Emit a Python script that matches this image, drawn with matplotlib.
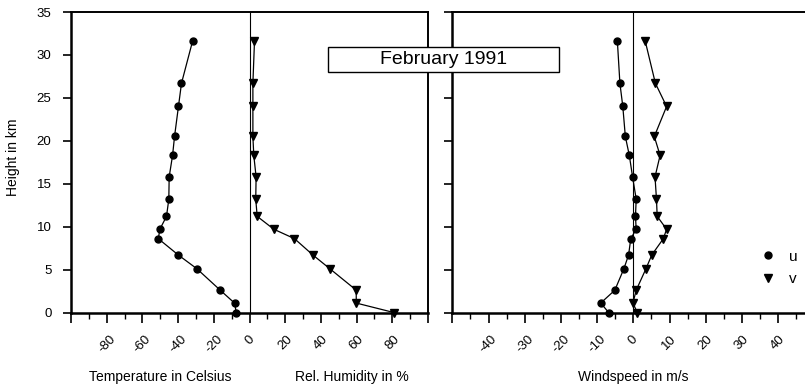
import numpy as np
import matplotlib
matplotlib.use('Agg')
import matplotlib.pyplot as plt
from matplotlib.patches import Rectangle
from matplotlib.ticker import MultipleLocator, FuncFormatter

plt.rcParams['font.family'] = ['Liberation Sans', 'DejaVu Sans']

# sounding levels (km) and profiles
height = [0, 1.1, 2.6, 5.1, 6.7, 8.6, 9.7, 11.2, 13.2, 15.8, 18.3, 20.5, 24.0, 26.7, 31.6]
temp = [-7.4, -8.4, -16.4, -29.5, -39.9, -51.1, -50.2, -46.5, -45.2, -45.0, -43.1, -42.0, -39.8, -38.1, -31.9]
humid = [80.8, 59.8, 59.8, 45.0, 35.5, 25.2, 13.6, 4.3, 3.5, 3.7, 2.4, 1.9, 1.9, 1.9, 2.8]
wind_u = [-6.8, -9.0, -5.1, -2.6, -1.3, -0.7, 0.8, 0.6, 0.8, -0.2, -1.1, -2.2, -2.9, -3.7, -4.4]
wind_v = [1.1, -0.1, 0.8, 3.5, 5.1, 8.3, 9.2, 6.6, 6.4, 6.0, 7.4, 5.8, 9.2, 6.1, 3.3]

W, H = 805, 391
fig = plt.figure(figsize=(W / 100, H / 100), dpi=100)

def px_axes(x0, y0, x1, y1):
    return fig.add_axes([x0 / W, 1 - y1 / H, (x1 - x0) / W, (y1 - y0) / H])

ax1 = px_axes(71, 12, 428, 312.5)
ax2 = px_axes(452.3, 12, 814.3, 312.5)

fs = 9.5

def style(ax, xmax, major, minor):
    ax.set_xlim(-xmax, xmax)
    ax.set_ylim(0, 35)
    ax.xaxis.set_major_locator(MultipleLocator(major))
    ax.xaxis.set_minor_locator(MultipleLocator(minor))
    ax.yaxis.set_major_locator(MultipleLocator(5))
    ax.xaxis.set_major_formatter(FuncFormatter(
        lambda x, p: '' if abs(x) >= xmax - 1e-6 else '%d' % x))
    ax.tick_params(axis='x', which='major', direction='out', length=7, width=1.2,
                   labelsize=fs, labelrotation=45, pad=8)
    ax.tick_params(axis='x', which='minor', direction='out', length=4, width=1.0)
    ax.tick_params(axis='y', direction='out', length=6, width=1.2, labelsize=fs, pad=8)
    for s in ax.spines.values():
        s.set_linewidth(1.4)
    ax.spines['left'].set_linewidth(1.8)
    ax.spines['bottom'].set_linewidth(1.8)
    ax.axvline(0, color='black', lw=0.8, zorder=1)
    for lab in ax.get_xticklabels():
        lab.set_ha('center')

style(ax1, 100, 20, 10)
style(ax2, 50, 10, 5)
ax2.tick_params(axis='y', labelleft=False)

mk = dict(color='black', lw=0.9, clip_on=False, zorder=3)
ax1.plot(temp, height, marker='o', ms=5, **mk)
ax1.plot(humid, height, marker='v', ms=6, **mk)
ax2.plot(wind_u, height, marker='o', ms=5, **mk)
ax2.plot(wind_v, height, marker='v', ms=6, **mk)

# axis captions under the panels
lab_y = 1 - 377 / H
fig.text(160 / W, lab_y, 'Temperature in Celsius', ha='center', va='center', fontsize=10)
fig.text(352 / W, lab_y, 'Rel. Humidity in %', ha='center', va='center', fontsize=10)
fig.text(633 / W, lab_y, 'Windspeed in m/s', ha='center', va='center', fontsize=10)
fig.text(13 / W, 1 - 157 / H, 'Height in km', rotation=90, ha='center', va='center', fontsize=10)

# title box
fig.add_artist(Rectangle((328 / W, 1 - 72 / H), 231 / W, 25 / H, transform=fig.transFigure,
                         facecolor='white', edgecolor='black', lw=1.0, zorder=5))
fig.text(443.5 / W, 1 - 60 / H, 'February 1991', ha='center', va='center',
         fontsize=14, zorder=6)

hu = plt.Line2D([], [], color='black', marker='o', ls='none', ms=5)
hv = plt.Line2D([], [], color='black', marker='v', ls='none', ms=6)
fig.legend([hu, hv], ['u', 'v'], loc='center left', bbox_to_anchor=(760 / W, 1 - 268 / H),
           frameon=False, fontsize=11, handlelength=1.0, handletextpad=0.9,
           borderpad=0, borderaxespad=0, labelspacing=0.55)

fig.savefig('out.png', dpi=100)
